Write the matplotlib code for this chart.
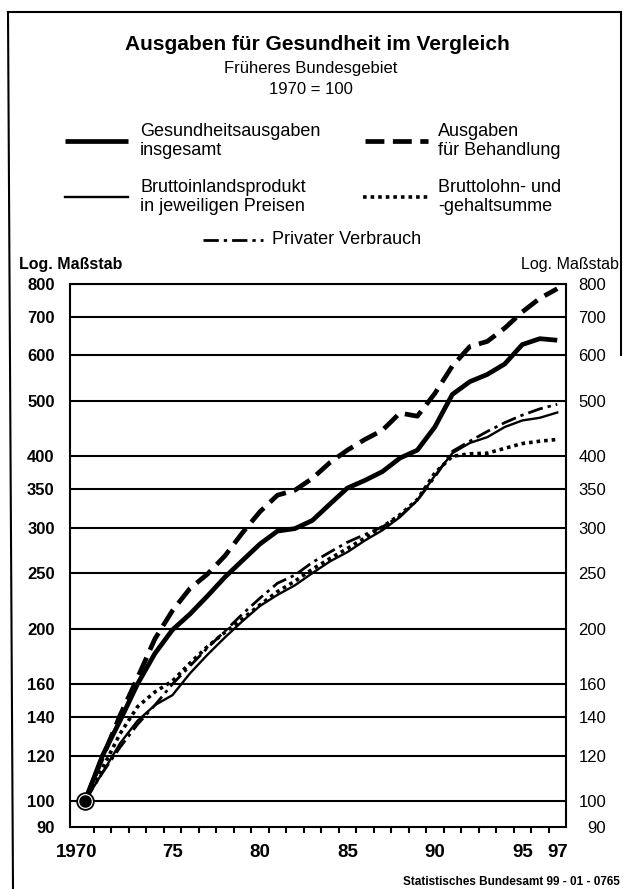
import matplotlib
matplotlib.use("Agg")
import matplotlib.pyplot as plt
from matplotlib.lines import Line2D
from matplotlib.ticker import FixedLocator, NullFormatter, NullLocator

plt.rcParams['font.family'] = ['Liberation Sans', 'DejaVu Sans']

# Daten (1970 = 100)
jahre = list(range(1970, 1998))
gesundheit = [100, 120, 138, 160, 181, 199, 212, 228, 246, 263, 281, 296, 299, 309,
              330, 352, 363, 376, 397, 410, 450, 513, 540, 556, 580, 627, 642, 638]
behandlung = [100, 119, 141, 164, 192, 215, 235, 249, 268, 294, 320, 342, 349, 366,
              390, 410, 428, 444, 476, 470, 515, 575, 622, 635, 670, 715, 755, 785]
bip = [100, 112, 126, 138, 147, 153, 167, 180, 193, 206, 219, 229, 238, 250,
       262, 272, 285, 297, 313, 335, 370, 405, 422, 432, 450, 462, 467, 477]
lohn = [100, 114, 131, 146, 155, 162, 174, 186, 197, 208, 220, 232, 242, 254,
        265, 276, 288, 301, 316, 336, 374, 400, 404, 405, 413, 421, 425, 428]
verbrauch = [100, 112, 124, 136, 147, 160, 172, 185, 198, 212, 226, 240, 248, 261,
             272, 283, 292, 301, 314, 335, 368, 408, 425, 442, 458, 472, 484, 493]

y_ticks = [90, 100, 120, 140, 160, 200, 250, 300, 350, 400, 500, 600, 700, 800]
x_tick_pos = [1969.5, 1975, 1980, 1985, 1990, 1995, 1997]
x_tick_lab = ['1970', '75', '80', '85', '90', '95', '97']

W, H = 623, 889
fig = plt.figure(figsize=(W / 100, H / 100), dpi=100)


def fx(px):
    return px / W


def fy(py):
    return 1 - py / H


# Stil der Linien
styles = {
    'gesundheit': dict(color='black', lw=3.4, ls='-', solid_capstyle='butt'),
    'behandlung': dict(color='black', lw=3.4, ls=(0, (4.0, 1.8)), dash_capstyle='butt'),
    'bip': dict(color='black', lw=1.7, ls='-'),
    'lohn': dict(color='black', lw=2.6, ls=(0, (1.0, 1.1)), dash_capstyle='butt'),
    'verbrauch': dict(color='black', lw=2.0, ls=(0, (5.5, 1.8, 1.2, 1.8)), dash_capstyle='butt'),
}

ax = fig.add_axes([fx(70), fy(827), (566 - 70) / W, (827 - 284) / H])
ax.set_yscale('log')
ax.set_ylim(90, 800)
ax.set_xlim(1969.14, 1997.5)

for v in y_ticks[1:]:
    ax.axhline(v, color='black', lw=1.5, zorder=1)

ax.plot(jahre, bip, **styles['bip'], zorder=3)
ax.plot(jahre, lohn, **styles['lohn'], zorder=3)
ax.plot(jahre, verbrauch, **styles['verbrauch'], zorder=3)
ax.plot(jahre, behandlung, **styles['behandlung'], zorder=4)
ax.plot(jahre, gesundheit, **styles['gesundheit'], zorder=4)

# Basispunkt 1970 = 100
ax.plot([1970], [100], marker='o', ms=12, mfc='white', mec='black', mew=1.3, zorder=5)
ax.plot([1970], [100], marker='o', ms=8, mfc='black', mec='black', zorder=6)

for s in ax.spines.values():
    s.set_linewidth(1.5)

ax.yaxis.set_major_locator(FixedLocator(y_ticks))
ax.yaxis.set_minor_locator(NullLocator())
ax.yaxis.set_minor_formatter(NullFormatter())
ax.set_yticklabels([str(v) for v in y_ticks], fontsize=12, fontweight='bold')
ax.tick_params(axis='y', length=0, pad=11)

ax.set_xticks(x_tick_pos)
ax.set_xticklabels(x_tick_lab, fontsize=13.5, fontweight='bold')
ax.tick_params(axis='x', which='major', length=0, pad=12)
ax.xaxis.set_minor_locator(FixedLocator([j + 0.5 for j in range(1969, 1997)]))
ax.tick_params(axis='x', which='minor', length=4, width=1.5, direction='out')

ax2 = ax.twinx()
ax2.set_yscale('log')
ax2.set_ylim(90, 800)
ax2.yaxis.set_major_locator(FixedLocator(y_ticks))
ax2.yaxis.set_minor_locator(NullLocator())
ax2.yaxis.set_minor_formatter(NullFormatter())
ax2.set_yticklabels([str(v) for v in y_ticks], fontsize=12, ha='right')
ax2.tick_params(axis='y', length=0, pad=29)
for s in ax2.spines.values():
    s.set_visible(False)

# Titel
fig.text(fx(317), fy(45), 'Ausgaben für Gesundheit im Vergleich', ha='center', va='center',
         fontsize=15, fontweight='bold')
fig.text(fx(311), fy(68), 'Früheres Bundesgebiet', ha='center', va='center', fontsize=12)
fig.text(fx(311), fy(90), '1970 = 100', ha='center', va='center', fontsize=12)

# Legende
legende = [
    ('gesundheit', 65, 128, 141, 140, 'Gesundheitsausgaben\ninsgesamt'),
    ('behandlung', 365, 428, 141, 438, 'Ausgaben\nfür Behandlung'),
    ('bip', 65, 128, 197, 140, 'Bruttoinlandsprodukt\nin jeweiligen Preisen'),
    ('lohn', 363, 428, 197, 438, 'Bruttolohn- und\n-gehaltsumme'),
    ('verbrauch', 203, 263, 240, 272, 'Privater Verbrauch'),
]
for key, x0, x1, yy, tx, label in legende:
    fig.add_artist(Line2D([fx(x0), fx(x1)], [fy(yy), fy(yy)], transform=fig.transFigure,
                          **styles[key]))
    fig.text(fx(tx), fy(yy), label, ha='left', va='center', fontsize=13, linespacing=1.2)

fig.text(fx(19), fy(265), 'Log. Maßstab', ha='left', va='center', fontsize=11.5, fontweight='bold')
fig.text(fx(619), fy(265), 'Log. Maßstab', ha='right', va='center', fontsize=11.5)

fig.text(fx(620), fy(882), 'Statistisches Bundesamt 99 - 01 - 0765', ha='right', va='center',
         fontsize=8.5, fontweight='bold')

# Rahmen
rahmen = dict(transform=fig.transFigure, color='black', lw=1.5)
fig.add_artist(Line2D([fx(8), fx(621)], [fy(12), fy(12)], **rahmen))
fig.add_artist(Line2D([fx(8), fx(13)], [fy(12), fy(889)], **rahmen))
fig.add_artist(Line2D([fx(621), fx(621)], [fy(12), fy(355)], **rahmen))

fig.savefig('out.png', dpi=100)
